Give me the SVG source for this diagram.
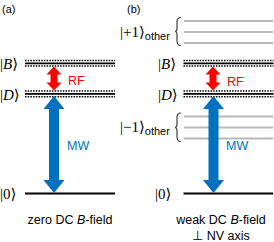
<svg xmlns="http://www.w3.org/2000/svg" width="274" height="242" viewBox="0 0 274 242">
<style>
  text { font-family: "Liberation Sans", Arial, sans-serif; fill: #000; }
  .tag { font-size: 11px; }
  .ket { font-family: "Liberation Serif", "DejaVu Serif", serif; font-size: 15px; }
  .ket .it { font-style: italic; }
  .sub { font-family: "Liberation Sans", Arial, sans-serif; font-size: 11px; }
  .cap { font-size: 12.5px; text-anchor: middle; }
  .rf { fill: #ff0000; font-size: 12.5px; }
  .mw { fill: #0070c0; font-size: 12.5px; }
  .dot { stroke: #000; stroke-width: 1.5; stroke-dasharray: 1.5 1.2; fill: none; }
  .sol { stroke: #000; stroke-width: 1.8; fill: none; }
  .gray { stroke: #b8b8b8; stroke-width: 1.8; fill: none; }
  .brace { stroke: #404040; stroke-width: 1.2; fill: none; }
  .red { fill: #ff0000; }
  .blue { fill: #0070c0; }
</style>
<defs>
  <g id="dressed">
    <line class="dot" x1="0" y1="-2.8" x2="90" y2="-2.8"/>
    <line class="sol" x1="0" y1="0" x2="90" y2="0"/>
    <line class="dot" x1="0" y1="2.8" x2="90" y2="2.8"/>
  </g>
</defs>

<text class="tag" x="2" y="13">(a)</text>
<text class="tag" x="127" y="13">(b)</text>

<!-- panel (a) -->
<g id="a-B">
  <use href="#dressed" x="25" y="63.3"/>
  <text class="ket" x="0" y="68.5">|<tspan class="it">B</tspan>⟩</text>
</g>
<g id="a-D">
  <use href="#dressed" x="25" y="93.9"/>
  <text class="ket" x="0" y="99.5">|<tspan class="it">D</tspan>⟩</text>
</g>
<g id="a-0">
  <line class="sol" x1="25" y1="193.5" x2="115" y2="193.5"/>
  <text class="ket" x="0" y="199">|0⟩</text>
</g>
<text class="cap" x="70" y="224">zero DC <tspan font-style="italic">B</tspan>-field</text>

<!-- panel (b) -->
<g id="b-plus1">
  <line class="gray" x1="184" y1="21" x2="273" y2="21"/>
  <line class="gray" x1="184" y1="32" x2="273" y2="32"/>
  <line class="gray" x1="184" y1="43" x2="273" y2="43"/>
  <path class="brace" d="M181,17.5 Q177,17.5 177,22 L177,28.5 Q177,31.5 175,31.5 Q177,31.5 177,34.5 L177,41 Q177,45.5 181,45.5"/>
  <text class="ket" x="120" y="37">|+1⟩<tspan class="sub" dy="2.5">other</tspan></text>
</g>
<g id="b-B">
  <use href="#dressed" x="183.5" y="63.3"/>
  <text class="ket" x="158" y="68.5">|<tspan class="it">B</tspan>⟩</text>
</g>
<g id="b-D">
  <use href="#dressed" x="183.5" y="93.9"/>
  <text class="ket" x="158" y="99.5">|<tspan class="it">D</tspan>⟩</text>
</g>
<g id="b-minus1">
  <line class="gray" x1="184" y1="116.5" x2="273" y2="116.5"/>
  <line class="gray" x1="184" y1="127.5" x2="273" y2="127.5"/>
  <line class="gray" x1="184" y1="138.5" x2="273" y2="138.5"/>
  <path class="brace" d="M181,113 Q177,113 177,117.5 L177,124 Q177,127.5 175,127.5 Q177,127.5 177,131 L177,137 Q177,141.5 181,141.5"/>
  <text class="ket" x="120" y="132">|−1⟩<tspan class="sub" dy="2.5">other</tspan></text>
</g>
<g id="b-0">
  <line class="sol" x1="183.5" y1="193.5" x2="273" y2="193.5"/>
  <text class="ket" x="155" y="199">|0⟩</text>
</g>
<text class="cap" x="221" y="224">weak DC <tspan font-style="italic">B</tspan>-field</text>
<text class="cap" x="221" y="240">⊥ NV axis</text>

<!-- connectors -->
<g id="connectors">
  <polygon class="red" points="54,66.5 61.5,74.5 57.5,74.5 57.5,82.5 61.5,82.5 54,90.5 46.5,82.5 50.5,82.5 50.5,74.5 46.5,74.5"/>
  <polygon class="blue" points="54,96 64.5,109 59,109 59,180 64.5,180 54,193 43.5,180 49,180 49,109 43.5,109"/>
  <polygon class="red" points="213,66.5 220.5,74.5 216.5,74.5 216.5,82.5 220.5,82.5 213,90.5 205.5,82.5 209.5,82.5 209.5,74.5 205.5,74.5"/>
  <polygon class="blue" points="213.5,96 224,109 218.5,109 218.5,180 224,180 213.5,193 203,180 208.5,180 208.5,109 203,109"/>
  <text class="rf" x="68" y="85">RF</text>
  <text class="mw" x="67" y="150">MW</text>
  <text class="rf" x="227" y="86">RF</text>
  <text class="mw" x="226" y="150">MW</text>
</g>
</svg>
